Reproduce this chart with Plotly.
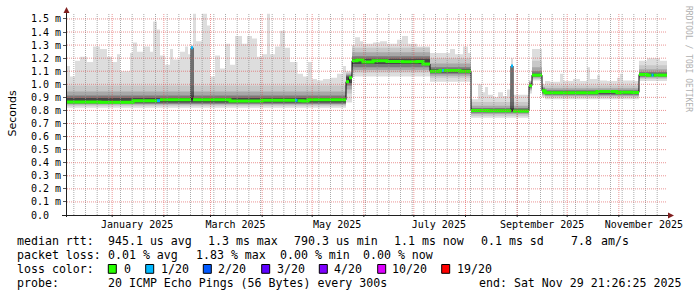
import bisect
import pandas as pd
import plotly.graph_objects as go

# ---------------- data ----------------
END = pd.Timestamp('2025-11-29 21:26:25')
SPAN_DAYS = 360
START = END - pd.Timedelta(days=SPAN_DAYS)

# consolidated samples: start (days after START), median rtt (ms), max rtt (ms), lost pings of 20
sample_day = [0, 1.8, 4.8, 7.8, 12, 15.6, 19.8, 24, 27, 30,
              31.8, 37.8, 39.6, 42, 45.6, 49.8, 51.6, 54, 55.8, 58.8,
              61.8, 63.6, 67.8, 70.8, 72.6, 74.4, 75.6, 77.4, 81, 84,
              85.8, 88.8, 91.8, 94.8, 97.8, 100.8, 105, 108, 111, 114,
              117, 120, 121.8, 124.8, 127.8, 130.8, 133.8, 136.8, 138.3, 141.6,
              144.6, 147, 150, 153.6, 157.8, 162, 165.6, 167.4, 169.2, 171,
              172.8, 174, 175.8, 177.6, 183.6, 187.8, 192, 198, 201, 204.6,
              210, 213.6, 217.8, 223.8, 225, 226.2, 229.8, 232.8, 235.8, 237.6,
              240.6, 242.4, 246.6, 249, 250.8, 252.6, 255.6, 258.6, 261.6, 264,
              266.4, 267.6, 277.2, 279, 285, 286.8, 289.8, 295.8, 297.6, 303.6,
              307.8, 312, 313.8, 318, 319.8, 324, 330, 331.8, 333.6, 339.6,
              343.2, 348, 350.7, 351.9, 355.8]
median_ms = [0.865, 0.865, 0.865, 0.865, 0.865, 0.865, 0.862, 0.862, 0.862, 0.862,
             0.862, 0.862, 0.875, 0.875, 0.875, 0.875, 0.875, 0.875, 0.882, 0.882,
             0.882, 0.882, 0.882, 0.882, 0.882, 1.28, 0.882, 0.882, 0.882, 0.882,
             0.882, 0.882, 0.882, 0.882, 0.872, 0.872, 0.872, 0.872, 0.872, 0.872,
             0.878, 0.878, 0.878, 0.878, 0.878, 0.878, 0.878, 0.878, 0.875, 0.872,
             0.882, 0.882, 0.882, 0.882, 0.882, 0.882, 0.882, 1.02, 1.05, 1.18,
             1.18, 1.185, 1.185, 1.17, 1.18, 1.18, 1.175, 1.175, 1.172, 1.172,
             1.175, 1.155, 1.10, 1.105, 1.105, 1.105, 1.105, 1.105, 1.10, 1.10,
             1.10, 0.80, 0.80, 0.80, 0.80, 0.798, 0.798, 0.798, 0.798, 0.798,
             1.14, 0.795, 0.99, 1.07, 0.95, 0.936, 0.936, 0.936, 0.936, 0.936,
             0.936, 0.936, 0.936, 0.945, 0.945, 0.945, 0.936, 0.94, 0.94, 0.938,
             1.075, 1.07, 1.07, 1.07, 1.07]
max_ms = [1.14, 1.06, 1.18, 1.21, 1.17, 1.29, 1.27, 1.21, 1.17, 1.23,
          1.10, 1.24, 1.32, 1.25, 1.29, 1.25, 1.48, 1.42, 1.22, 1.15,
          1.27, 1.19, 1.25, 1.29, 1.23, 1.30, 1.54, 1.33, 1.54, 1.45,
          1.06, 1.22, 1.12, 1.31, 1.15, 1.37, 1.31, 1.37, 1.35, 1.21,
          1.23, 1.54, 1.23, 1.29, 1.41, 1.28, 1.17, 1.17, 1.08, 1.06,
          1.17, 1.04, 1.03, 1.04, 1.05, 1.08, 1.14, 1.10, 1.10, 1.30,
          1.36, 1.36, 1.33, 1.31, 1.32, 1.33, 1.31, 1.34, 1.37, 1.31,
          1.29, 1.29, 1.24, 1.24, 1.24, 1.24, 1.27, 1.23, 1.23, 1.29,
          1.24, 0.885, 1.00, 0.94, 0.98, 0.92, 0.90, 0.94, 0.91, 0.96,
          1.20, 0.92, 1.03, 1.27, 1.00, 1.025, 1.02, 1.08, 1.025, 1.04,
          1.025, 1.13, 1.04, 1.07, 1.03, 1.025, 1.05, 1.08, 1.03, 1.025,
          1.18, 1.20, 1.20, 1.20, 1.18]
lost_pings = [0, 0, 0, 0, 0, 0, 0, 0, 0, 0,
              0, 0, 0, 0, 0, 0, 0, 1, 0, 0,
              0, 0, 0, 0, 0, 1, 0, 0, 0, 0,
              0, 0, 0, 0, 0, 0, 0, 0, 0, 0,
              0, 0, 0, 0, 0, 0, 0, 1, 0, 0,
              0, 0, 0, 0, 0, 0, 0, 0, 0, 0,
              0, 0, 0, 0, 0, 0, 0, 0, 0, 0,
              0, 0, 0, 0, 1, 0, 0, 0, 0, 0,
              0, 0, 0, 0, 0, 0, 0, 0, 0, 0,
              1, 0, 0, 0, 0, 0, 0, 0, 0, 0,
              0, 0, 0, 0, 0, 0, 0, 0, 0, 0,
              0, 0, 1, 0, 0]

# smoke distribution per network regime (ms): start day, min and ping quantiles
regime_day = [0, 167.4, 171, 217.8, 242.4, 277.2, 279, 285, 286.8, 343.2]
regime_min = [0.82, 0.86, 1.06, 1.02, 0.745, 0.93, 1.03, 0.90, 0.885, 1.025]
regime_p10 = [0.835, 0.93, 1.09, 1.05, 0.76, 0.95, 1.04, 0.91, 0.90, 1.04]
regime_p20 = [0.845, 0.96, 1.11, 1.065, 0.772, 0.96, 1.05, 0.92, 0.91, 1.05]
regime_p30 = [0.852, 0.99, 1.13, 1.08, 0.782, 0.97, 1.055, 0.93, 0.918, 1.058]
regime_p40 = [0.86, 1.01, 1.155, 1.09, 0.79, 0.98, 1.063, 0.94, 0.928, 1.065]
regime_p60 = [0.895, 1.06, 1.195, 1.115, 0.808, 1.00, 1.08, 0.96, 0.945, 1.08]
regime_p70 = [0.915, 1.07, 1.215, 1.13, 0.818, 1.01, 1.10, 0.97, 0.955, 1.095]
regime_p80 = [0.945, 1.08, 1.245, 1.16, 0.835, 1.02, 1.13, 0.98, 0.97, 1.115]
regime_p90 = [0.99, 1.09, 1.28, 1.20, 0.865, 1.025, 1.18, 0.99, 0.99, 1.145]

loss_levels = [0, 1, 2, 3, 4, 10, 19]
loss_labels = ['0', '1/20', '2/20', '3/20', '4/20', '10/20', '19/20']
loss_colors = ['#26ff00', '#00b8ff', '#0059ff', '#5e00ff', '#7e00ff', '#dd00ff', '#ff0000']

y_tick_values = [0.0, 0.1, 0.2, 0.3, 0.4, 0.5, 0.6, 0.7, 0.8, 0.9, 1.0, 1.1, 1.2, 1.3, 1.4, 1.5]
y_tick_labels = ['0.0\u00a0\u00a0', '0.1 m', '0.2 m', '0.3 m', '0.4 m', '0.5 m', '0.6 m', '0.7 m',
                 '0.8 m', '0.9 m', '1.0 m', '1.1 m', '1.2 m', '1.3 m', '1.4 m', '1.5 m']
label_months = ['2025-01-01', '2025-03-01', '2025-05-01', '2025-07-01', '2025-09-01', '2025-11-01']
label_texts = ['January 2025', 'March 2025', 'May 2025', 'July 2025', 'September 2025', 'November 2025']

legend_rows = [
    [(16, 'median rtt:'), (107.3, '945.1 us avg'), (207, '1.3 ms max'), (293.3, '790.3 us min'),
     (393.3, '1.1 ms now'), (480, '0.1 ms sd'), (570, '7.8'), (600, 'am/s')],
    [(16, 'packet loss:'), (107.3, '0.01 % avg'), (195, '1.83 % max'), (279.3, '0.00 % min'),
     (362.7, '0.00 % now')],
    [(16, 'loss color:')],
    [(16, 'probe:'), (107.3, '20 ICMP Echo Pings (56 Bytes) every 300s'), (478.3, 'end: Sat Nov 29 21:26:25 2025')],
]
legend_row_y = [241.3, 255.3, 269.3, 283.0]
loss_box_x = [108.3, 145.7, 203.3, 261.7, 319.3, 377.7, 441.7]
loss_text_x = [123.3, 160, 217.3, 276, 333, 391.7, 456.7]

# ---------------- geometry ----------------
W, H = 697, 297
PL, PR, PT, PB = 67, 667, 13, 215
YMAX = (PB - PT) / 130.7


def px(x):
    return (x - PL) / (PR - PL)


def py(y):
    return (PB - y) / (PB - PT)


X = [START + pd.Timedelta(days=d) for d in sample_day] + [END]
reg = [bisect.bisect_right(regime_day, d) - 1 for d in sample_day]


def per_sample(arr):
    return [arr[r] for r in reg]


def closed(vals):
    return list(vals) + [vals[-1]]


fig = go.Figure()

bands = [
    (per_sample(regime_min), max_ms, '#dddddd'),
    (per_sample(regime_p10), per_sample(regime_p90), '#c8c8c8'),
    (per_sample(regime_p20), per_sample(regime_p80), '#a8a8a8'),
    (per_sample(regime_p30), per_sample(regime_p70), '#7a7a7a'),
    (per_sample(regime_p40), per_sample(regime_p60), '#484848'),
]
for lo, hi, col in bands:
    fig.add_trace(go.Scatter(x=X, y=closed(lo), mode='lines', line=dict(width=0, shape='hv'),
                             hoverinfo='skip', showlegend=False))
    fig.add_trace(go.Scatter(x=X, y=closed(hi), mode='lines', line=dict(width=0, shape='hv'),
                             fill='tonexty', fillcolor=col, hoverinfo='skip', showlegend=False))

# thin dark median line (shows the steps)
fig.add_trace(go.Scatter(x=X, y=closed(median_ms), mode='lines',
                         line=dict(width=1, color='#000000', shape='hv'),
                         hoverinfo='skip', showlegend=False))


def loss_color(n):
    idx = bisect.bisect_right(loss_levels, n) - 1
    return loss_colors[idx]


segs = {}
n = len(sample_day)
i = 0
while i < n:
    c = loss_color(lost_pings[i])
    j = i
    while (j + 1 < n and loss_color(lost_pings[j + 1]) == c
           and abs(median_ms[j + 1] - median_ms[j]) < 0.03):
        j += 1
    xs = [X[k] for k in range(i, j + 2)]
    ys = [median_ms[k] for k in range(i, j + 1)] + [median_ms[j]]
    sx, sy = segs.setdefault(c, ([], []))
    sx.extend(xs + [None])
    sy.extend(ys + [None])
    i = j + 1
for c, (sx, sy) in segs.items():
    fig.add_trace(go.Scatter(x=sx, y=sy, mode='lines', line=dict(width=3, color=c, shape='hv'),
                             hoverinfo='skip', showlegend=False))

MGRID = 'rgba(222,79,79,0.6)'
GRID = 'rgba(143,143,143,0.75)'
AXIS = '#1f1f1f'
ARROW = '#801f1f'
MONO = 'DejaVu Sans Mono'
DOT = '1px,1px'

shapes = []
# weekly minor grid (Mondays)
for w in pd.date_range('2024-12-02', END, freq='7D'):
    if w <= START:
        continue
    shapes.append(dict(type='line', xref='x', yref='paper', x0=w, x1=w, y0=0, y1=1, layer='above',
                       line=dict(color=GRID, width=1, dash=DOT)))
# horizontal major grid
for v in y_tick_values[1:]:
    shapes.append(dict(type='line', xref='paper', yref='y', x0=0, x1=1, y0=v, y1=v, layer='above',
                       line=dict(color=MGRID, width=1, dash=DOT)))
# monthly major grid
for m in pd.date_range('2024-12-01', END, freq='MS'):
    if m <= START:
        continue
    shapes.append(dict(type='line', xref='x', yref='paper', x0=m, x1=m, y0=0, y1=1, layer='above',
                       line=dict(color=MGRID, width=1, dash=DOT)))
    shapes.append(dict(type='line', xref='x', yref='paper', x0=m, x1=m, y0=py(217), y1=0,
                       line=dict(color=AXIS, width=1)))
# axes + arrows
shapes.append(dict(type='line', xref='paper', yref='paper', x0=px(62), x1=px(670), y0=py(215.5), y1=py(215.5),
                   line=dict(color=AXIS, width=1)))
shapes.append(dict(type='line', xref='paper', yref='paper', x0=px(66.5), x1=px(66.5), y0=py(217), y1=py(11),
                   line=dict(color=AXIS, width=1)))
shapes.append(dict(type='path', xref='paper', yref='paper',
                   path=f'M {px(668)} {py(212.5)} L {px(674)} {py(215.5)} L {px(668)} {py(218.5)} Z',
                   fillcolor=ARROW, line=dict(width=0)))
shapes.append(dict(type='path', xref='paper', yref='paper',
                   path=f'M {px(63.5)} {py(13)} L {px(66.5)} {py(7)} L {px(69.5)} {py(13)} Z',
                   fillcolor=ARROW, line=dict(width=0)))
# loss color boxes
for bx, col in zip(loss_box_x, loss_colors):
    shapes.append(dict(type='rect', xref='paper', yref='paper', x0=px(bx), x1=px(bx + 8),
                       y0=py(273.3), y1=py(264.5), fillcolor=col, line=dict(color='#000000', width=1)))

annotations = []


def txt(x, y, s, size=11.6, color='#000000', family=MONO, angle=0, xanchor='left'):
    annotations.append(dict(x=px(x), y=py(y), xref='paper', yref='paper', text=s, showarrow=False,
                            xanchor=xanchor, yanchor='middle', textangle=angle, borderpad=0,
                            font=dict(family=family, size=size, color=color)))


for row, yy in zip(legend_rows, legend_row_y):
    for xx, s in row:
        txt(xx - 0.5, yy, s)
for xx, s in zip(loss_text_x, loss_labels):
    txt(xx - 0.5, legend_row_y[2], s)

txt(11.5, 114, 'Seconds', size=11, family='DejaVu Sans', angle=-90, xanchor='center')
txt(688, 59, 'RRDTOOL / TOBI OETIKER', size=8, color='#b0b0b0', angle=90, xanchor='center')

tickvals_x = [pd.Timestamp(m) + pd.Timedelta(days=15) for m in label_months]

fig.update_layout(
    width=W, height=H,
    margin=dict(l=PL, r=W - PR, t=PT, b=H - PB, pad=0),
    paper_bgcolor='#ffffff', plot_bgcolor='#ffffff',
    showlegend=False,
    shapes=shapes, annotations=annotations,
    xaxis=dict(type='date', range=[START, END], tickmode='array', tickvals=tickvals_x,
               ticktext=label_texts, ticks='', showgrid=False, zeroline=False, showline=False,
               ticklabelstandoff=2,
               tickfont=dict(family=MONO, size=10, color='#000000')),
    yaxis=dict(range=[0, YMAX], tickmode='array', tickvals=y_tick_values, ticktext=y_tick_labels,
               showgrid=False, zeroline=False,
               showline=False, ticks='outside', ticklen=3, tickcolor='#555555',
               tickfont=dict(family=MONO, size=10, color='#000000')),
)

fig.write_html('out.html', config={'displayModeBar': False})
